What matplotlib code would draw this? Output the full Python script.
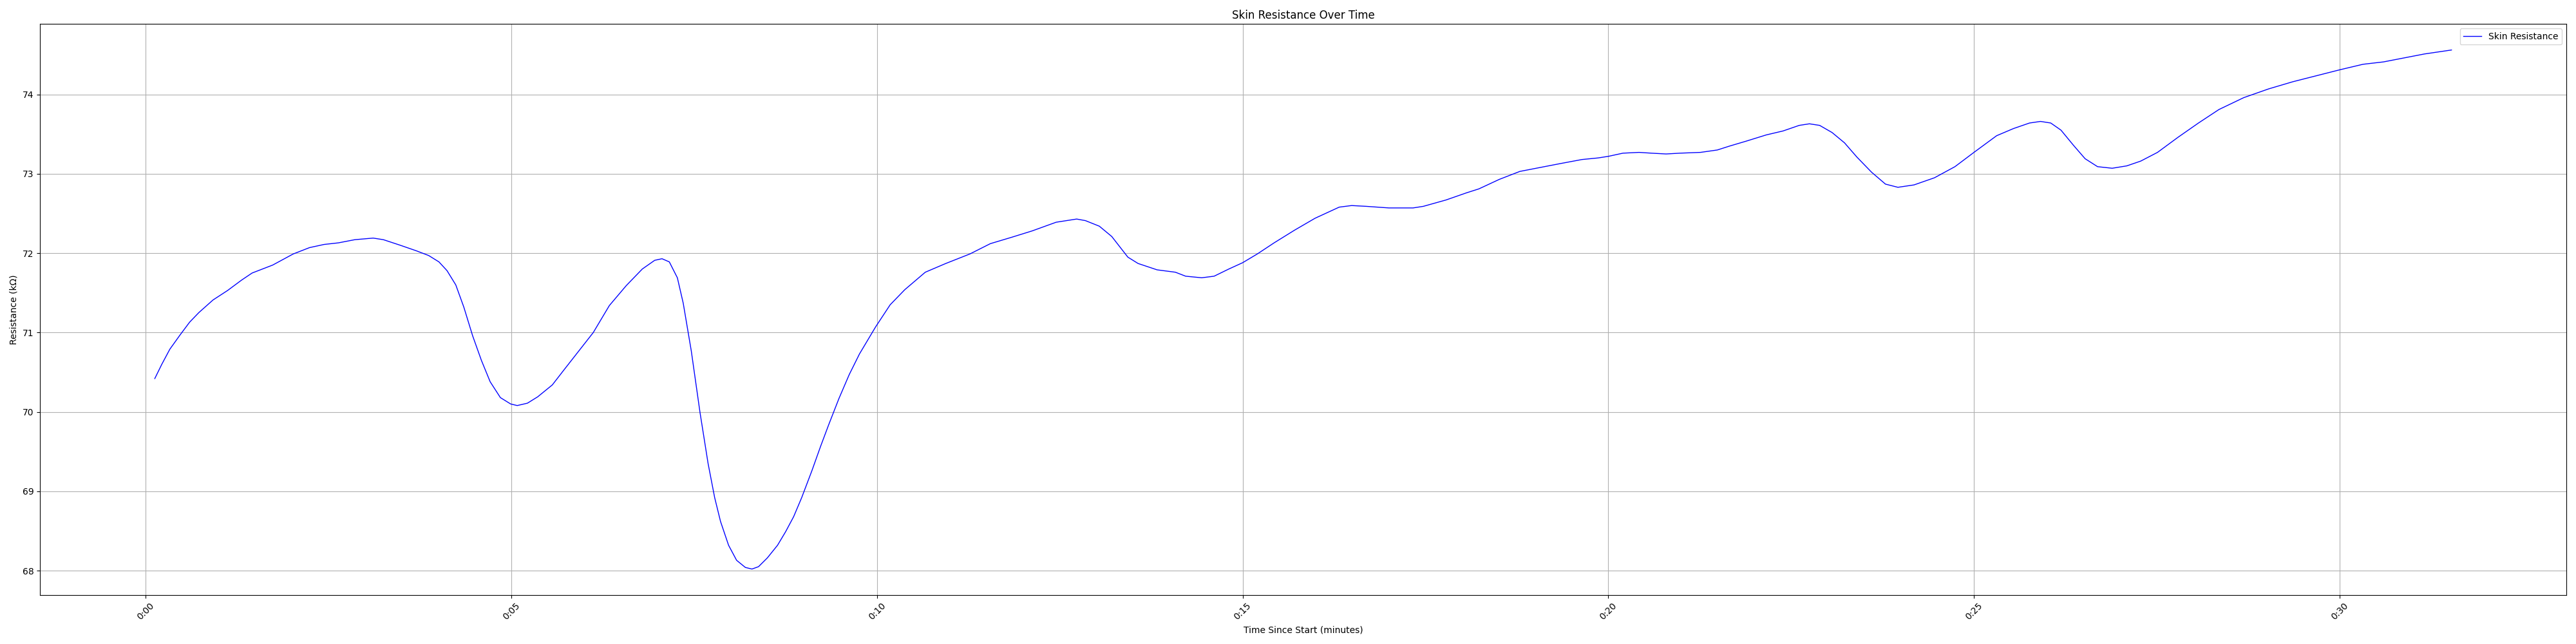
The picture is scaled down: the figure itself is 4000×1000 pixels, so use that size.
import matplotlib
matplotlib.use("Agg")
import matplotlib.pyplot as plt

# time since start and skin resistance (kOhm)
minutes = [
    0.124, 0.22, 0.33, 0.47, 0.60, 0.725, 0.92, 1.12, 1.31, 1.455,
    1.736, 2.017, 2.24, 2.44, 2.635, 2.86, 3.11, 3.25, 3.48, 3.70,
    3.87, 4.01, 4.12, 4.24, 4.35, 4.47, 4.59, 4.71, 4.85, 4.99,
    5.08, 5.22, 5.36, 5.56, 5.72, 5.89, 6.12, 6.34, 6.57, 6.79,
    6.96, 7.06, 7.16, 7.27, 7.35, 7.46, 7.58, 7.69, 7.78, 7.86,
    7.97, 8.08, 8.20, 8.29, 8.38, 8.50, 8.64, 8.75, 8.86, 8.97,
    9.11, 9.23, 9.34, 9.48, 9.62, 9.76, 9.98, 10.18, 10.38, 10.66,
    10.94, 11.27, 11.55, 11.84, 12.12, 12.45, 12.73, 12.85, 13.04, 13.21,
    13.43, 13.57, 13.83, 14.08, 14.22, 14.44, 14.61, 14.81, 15.00, 15.20,
    15.43, 15.71, 15.99, 16.32, 16.49, 16.69, 17.00, 17.33, 17.47, 17.78,
    18.06, 18.23, 18.51, 18.79, 19.07, 19.35, 19.64, 19.86, 20.00, 20.20,
    20.42, 20.59, 20.79, 20.98, 21.26, 21.49, 21.66, 21.88, 22.16, 22.39,
    22.61, 22.75, 22.89, 23.06, 23.23, 23.40, 23.60, 23.79, 23.96, 24.18,
    24.46, 24.74, 25.00, 25.31, 25.54, 25.76, 25.91, 26.05, 26.19, 26.36,
    26.52, 26.69, 26.89, 27.09, 27.28, 27.51, 27.79, 28.07, 28.35, 28.69,
    29.03, 29.36, 29.70, 30.00, 30.32, 30.60, 30.88, 31.16, 31.53,
]
resistance = [
    70.42, 70.60, 70.79, 70.97, 71.13, 71.25, 71.41, 71.53, 71.66, 71.75,
    71.85, 71.99, 72.07, 72.11, 72.13, 72.17, 72.19, 72.17, 72.10, 72.03,
    71.97, 71.89, 71.78, 71.60, 71.32, 70.96, 70.65, 70.38, 70.18, 70.10,
    70.08, 70.11, 70.19, 70.34, 70.53, 70.73, 71.00, 71.34, 71.59, 71.80,
    71.91, 71.93, 71.89, 71.69, 71.37, 70.77, 69.99, 69.35, 68.92, 68.62,
    68.32, 68.13, 68.04, 68.02, 68.05, 68.16, 68.32, 68.49, 68.68, 68.92,
    69.26, 69.57, 69.84, 70.17, 70.47, 70.73, 71.07, 71.35, 71.54, 71.76,
    71.87, 71.99, 72.12, 72.20, 72.28, 72.39, 72.43, 72.41, 72.34, 72.21,
    71.95, 71.87, 71.79, 71.76, 71.71, 71.69, 71.71, 71.80, 71.88, 71.99,
    72.13, 72.29, 72.44, 72.58, 72.60, 72.59, 72.57, 72.57, 72.59, 72.67,
    72.76, 72.81, 72.93, 73.03, 73.08, 73.13, 73.18, 73.20, 73.22, 73.26,
    73.27, 73.26, 73.25, 73.26, 73.27, 73.30, 73.35, 73.41, 73.49, 73.54,
    73.61, 73.63, 73.61, 73.52, 73.39, 73.21, 73.02, 72.87, 72.83, 72.86,
    72.95, 73.09, 73.27, 73.48, 73.57, 73.64, 73.66, 73.64, 73.55, 73.36,
    73.19, 73.09, 73.07, 73.10, 73.16, 73.27, 73.46, 73.64, 73.81, 73.96,
    74.07, 74.16, 74.24, 74.31, 74.38, 74.41, 74.46, 74.51, 74.56,
]

tick_pos = [0, 5, 10, 15, 20, 25, 30]
tick_labels = ["0:00", "0:05", "0:10", "0:15", "0:20", "0:25", "0:30"]

fig, ax = plt.subplots(figsize=(40, 10), dpi=100)
ax.plot(minutes, resistance, color="blue", linewidth=1, label="Skin Resistance")
ax.set_xticks(tick_pos)
ax.set_xticklabels(tick_labels, rotation=45)
ax.set_title("Skin Resistance Over Time")
ax.set_xlabel("Time Since Start (minutes)")
ax.set_ylabel("Resistance (kΩ)")
ax.grid(True)
ax.legend(loc="upper right")

plt.tight_layout()
fig.savefig("out.png")
